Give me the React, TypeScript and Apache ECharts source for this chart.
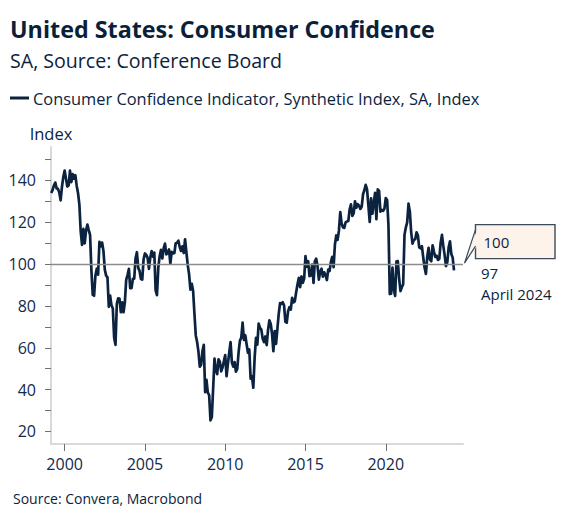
import React, { useEffect, useRef } from "react";
import * as echarts from "echarts";

// ---- Data (Conference Board Consumer Confidence, SA) ----
const firstYear = 1999;
const firstMonth = 3; // March 1999
const v1999 = [134.0, 135.5, 137.7, 139.0, 136.2, 136.0, 134.2, 130.5, 137.0, 141.7];
const v2000 = [144.7, 140.8, 137.1, 137.7, 144.7, 139.2, 143.0, 140.8, 142.5, 137.5, 134.0, 128.6];
const v2001 = [115.7, 109.2, 116.9, 109.9, 116.1, 118.9, 116.3, 114.0, 97.0, 85.3, 84.9, 94.6];
const v2002 = [97.8, 95.0, 110.7, 108.5, 110.3, 106.3, 97.4, 94.5, 93.7, 79.6, 84.9, 80.3];
const v2003 = [78.8, 64.8, 61.4, 81.0, 83.6, 83.5, 77.0, 81.7, 77.0, 81.7, 92.5, 94.8];
const v2004 = [97.7, 88.5, 88.5, 93.0, 93.1, 102.8, 105.7, 98.2, 96.7, 92.9, 92.6, 102.3];
const v2005 = [105.1, 104.4, 103.0, 97.7, 103.1, 106.2, 103.6, 105.5, 87.5, 85.2, 98.3, 103.8];
const v2006 = [106.8, 102.7, 107.5, 109.8, 104.7, 105.4, 107.0, 100.2, 105.9, 105.1, 105.3, 110.0];
const v2007 = [110.2, 111.2, 108.2, 106.3, 108.5, 105.3, 111.9, 105.6, 99.5, 95.2, 87.8, 90.6];
const v2008 = [87.3, 76.4, 65.9, 62.8, 58.1, 51.0, 51.9, 58.5, 61.4, 38.8, 44.7, 38.6];
const v2009 = [37.4, 25.3, 26.9, 40.8, 54.8, 49.3, 47.4, 54.5, 53.4, 48.7, 50.6, 53.6];
const v2010 = [56.5, 46.4, 52.3, 57.7, 62.7, 52.9, 51.0, 53.2, 48.6, 49.9, 57.8, 63.4];
const v2011 = [64.8, 72.0, 63.8, 66.0, 61.7, 57.6, 59.2, 45.2, 46.4, 40.9, 55.2, 64.8];
const v2012 = [61.5, 71.6, 69.5, 68.7, 64.4, 62.7, 65.4, 61.3, 68.4, 73.1, 71.5, 66.7];
const v2013 = [58.4, 68.0, 61.9, 69.0, 76.2, 81.4, 81.0, 81.8, 80.2, 72.4, 72.0, 77.5];
const v2014 = [79.4, 78.3, 83.9, 81.7, 82.2, 86.4, 90.3, 93.4, 89.0, 94.1, 91.0, 93.1];
const v2015 = [103.8, 98.8, 101.4, 94.3, 94.6, 99.8, 91.0, 101.3, 102.6, 99.1, 92.6, 96.3];
const v2016 = [97.8, 94.0, 96.1, 94.7, 92.4, 97.4, 96.7, 101.1, 103.5, 98.6, 109.4, 113.7];
const v2017 = [111.6, 116.1, 124.9, 119.4, 117.6, 117.3, 120.0, 120.4, 120.6, 126.2, 128.6, 123.1];
const v2018 = [124.3, 130.0, 127.0, 128.7, 128.0, 126.4, 127.4, 133.4, 135.3, 137.9, 135.7, 128.1];
const v2019 = [120.2, 131.4, 124.1, 129.2, 134.1, 121.5, 135.7, 135.1, 125.1, 125.9, 125.5, 126.5];
const v2020 = [131.6, 130.7, 118.8, 85.7, 85.9, 98.3, 88.0, 84.8, 101.3, 101.4, 92.9, 87.1];
const v2021 = [88.9, 90.4, 114.0, 117.5, 120.0, 128.9, 125.1, 115.2, 109.8, 111.6, 111.9, 115.2];
const v2022 = [113.8, 108.0, 107.6, 108.6, 103.2, 98.4, 95.3, 103.6, 107.8, 102.2, 101.4, 109.0];
const v2023 = [106.0, 103.4, 104.0, 102.0, 102.5, 110.1, 114.0, 108.7, 104.3, 99.1, 101.0, 108.0];
const v2024 = [110.9, 104.8, 103.1, 97.0];

const yearlyValues = [
  v1999, v2000, v2001, v2002, v2003, v2004, v2005, v2006, v2007, v2008, v2009,
  v2010, v2011, v2012, v2013, v2014, v2015, v2016, v2017, v2018, v2019, v2020,
  v2021, v2022, v2023, v2024,
];

const xTickYears = [2000, 2005, 2010, 2015, 2020];
const yTickValues = [20, 30, 40, 50, 60, 70, 80, 90, 100, 110, 120, 130, 140, 150];
const yLabelValues = [20, 40, 60, 80, 100, 120, 140];
const referenceValue = 100;
const lastDateLabel = "April 2024";

const seriesName = "Consumer Confidence Indicator, Synthetic Index, SA, Index";
const titleText = "United States: Consumer Confidence";
const subtitleText = "SA, Source: Conference Board";
const sourceText = "Source: Convera, Macrobond";
const axisName = "Index";

const X_MIN = 1999.15;
const X_MAX = 2024.81;
const Y_MIN = 14;
const Y_MAX = 156;

const NAVY = "#0c2340";
const TEXT = "#13294b";
const FONT = "'Open Sans', 'Noto Sans', sans-serif";

function buildData(): [number, number][] {
  const out: [number, number][] = [];
  yearlyValues.forEach((arr, i) => {
    const year = firstYear + i;
    const startM = i === 0 ? firstMonth : 1;
    arr.forEach((v, j) => {
      const m = startM + j;
      out.push([year + (m - 1) / 12, v]);
    });
  });
  return out;
}

export default function App() {
  const ref = useRef<HTMLDivElement | null>(null);

  useEffect(() => {
    if (!ref.current) return;
    const chart = echarts.init(ref.current, undefined, { renderer: "svg" });
    const data = buildData();

    const option: any = {
      animation: false,
      backgroundColor: "#ffffff",
      textStyle: { fontFamily: FONT },
      grid: { left: 51, right: 103, top: 147, bottom: 78, containLabel: false },
      legend: {
        show: true,
        left: 10,
        top: 90,
        icon: "rect",
        itemWidth: 19,
        itemHeight: 3,
        itemGap: 10,
        padding: 0,
        selectedMode: false,
        textStyle: { color: NAVY, fontSize: 16.4, fontFamily: FONT, padding: [0, 0, 0, -1] },
        data: [seriesName],
      },
      xAxis: {
        type: "value",
        min: X_MIN,
        max: X_MAX,
        splitLine: { show: false },
        axisLine: { show: true, onZero: false, lineStyle: { color: "#d9d9d9", width: 2 } },
        axisTick: {
          show: true,
          length: 7,
          lineStyle: { color: "#707070", width: 1 },
          customValues: xTickYears,
        },
        axisLabel: {
          color: TEXT,
          fontSize: 16,
          fontFamily: FONT,
          margin: 12,
          customValues: xTickYears,
          formatter: (v: number) => String(Math.round(v)),
        },
      },
      yAxis: {
        type: "value",
        min: Y_MIN,
        max: Y_MAX,
        name: axisName,
        nameLocation: "end",
        nameGap: 5,
        nameTextStyle: { color: NAVY, fontSize: 16.5, fontFamily: FONT, align: "center" },
        splitLine: { show: false },
        axisLine: { show: true, onZero: false, lineStyle: { color: "#d9d9d9", width: 2 } },
        axisTick: {
          show: true,
          length: 6,
          lineStyle: { color: "#707070", width: 1 },
          customValues: yTickValues,
        },
        axisLabel: {
          color: TEXT,
          fontSize: 16,
          fontFamily: FONT,
          margin: 15,
          customValues: yLabelValues,
        },
      },
      series: [
        {
          name: seriesName,
          type: "line",
          data,
          showSymbol: false,
          symbol: "none",
          color: NAVY,
          lineStyle: { color: NAVY, width: 2.7, join: "round" },
          endLabel: {
            show: true,
            color: NAVY,
            fontSize: 15,
            fontFamily: FONT,
            lineHeight: 21,
            offset: [19, 13],
            formatter: (p: any) => `${Math.round(p.value[1])}\n${lastDateLabel}`,
          },
          markLine: {
            silent: true,
            symbol: ["none", "none"],
            label: { show: false },
            lineStyle: { color: "#8c8c8c", width: 1.4, type: "solid" },
            data: [{ yAxis: referenceValue }],
          },
          z: 3,
        },
      ],
      graphic: [
        {
          type: "text",
          x: 10,
          y: 29,
          style: {
            text: titleText,
            fill: "#0b1f3a",
            fontSize: 23.3,
            fontWeight: "bold",
            fontFamily: FONT,
            verticalAlign: "middle",
          },
        },
        {
          type: "text",
          x: 10,
          y: 60,
          style: {
            text: subtitleText,
            fill: NAVY,
            fontSize: 19.6,
            fontFamily: FONT,
            verticalAlign: "middle",
          },
        },
        {
          type: "text",
          x: 13,
          y: 498,
          style: {
            text: sourceText,
            fill: NAVY,
            fontSize: 14,
            fontFamily: FONT,
            verticalAlign: "middle",
          },
        },
      ],
    };

    chart.setOption(option);

    // Callout box for the reference line, anchored to the line's right end
    const anchor = chart.convertToPixel({ gridIndex: 0 }, [X_MAX, referenceValue]) as number[];
    const bx = anchor[0] + 12.5;
    const by = anchor[1] - 39.5;
    const bw = 79.5;
    const bh = 34;
    const tipX = anchor[0] + 1.5;
    const tipY = anchor[1] - 1;
    const border = "#3b4a5c";
    const fill = "#fdf3ea";
    chart.setOption({
      graphic: [
        {
          type: "rect",
          id: "calloutBox",
          shape: { x: bx, y: by, width: bw, height: bh },
          style: { fill, stroke: border, lineWidth: 1.4 },
          z: 10,
        },
        {
          type: "polygon",
          id: "calloutTailFill",
          shape: { points: [[bx + 1.5, by + 5], [tipX, tipY], [bx + 1.5, by + 21.5]] },
          style: { fill, stroke: "none" },
          z: 11,
        },
        {
          type: "polyline",
          id: "calloutTailLine",
          shape: { points: [[bx, by + 5], [tipX, tipY], [bx, by + 21.5]] },
          style: { stroke: border, lineWidth: 1.2, fill: "none" },
          z: 12,
        },
        {
          type: "text",
          id: "calloutText",
          x: bx + 8,
          y: by + 17,
          style: {
            text: String(referenceValue),
            fill: NAVY,
            fontSize: 15,
            fontFamily: FONT,
            verticalAlign: "middle",
          },
          z: 13,
        },
      ],
    });

    return () => {
      chart.dispose();
    };
  }, []);

  return (
    <div
      ref={ref}
      style={{ position: "absolute", left: 0, top: 0, width: 566, height: 522 }}
    />
  );
}
